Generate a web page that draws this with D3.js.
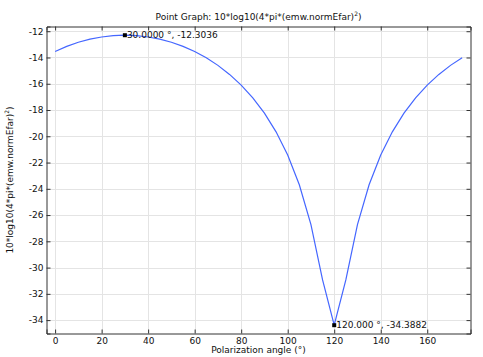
<!DOCTYPE html>
<html>
<head>
<meta charset="utf-8">
<script src="https://cdn.jsdelivr.net/npm/d3@7"></script>
<style>
    body { margin: 0; background: #fff; }
    text { font-family: "DejaVu Sans", sans-serif; font-size: 9px; fill: #111; }
</style>
</head>
<body>
<div id="myfigure"></div>
<script>
// polarization angle in degrees
var angles = [0, 5, 10, 15, 20, 25, 30, 35, 40, 45, 50, 55, 60, 65, 70, 75, 80, 85,
              90, 95, 100, 105, 110, 115, 120, 125, 130, 135, 140, 145, 150, 155, 160, 165, 170, 175];
// 10*log10(4*pi*(emw.normEfar)^2)
var values = [-13.54, -13.15, -12.84, -12.60, -12.44, -12.34, -12.3036, -12.34, -12.44, -12.60,
              -12.84, -13.15, -13.54, -14.02, -14.60, -15.29, -16.10, -17.08, -18.24, -19.66,
              -21.43, -23.69, -26.73, -30.94, -34.3882, -30.94, -26.73, -23.69, -21.43, -19.66,
              -18.24, -17.08, -16.10, -15.29, -14.60, -14.02];
var xTicks = [0, 20, 40, 60, 80, 100, 120, 140, 160];
var yTicks = [-34, -32, -30, -28, -26, -24, -22, -20, -18, -16, -14, -12];
// annotated points: [angle, value, label]
var marks = [
    [30, -12.3036, "30.0000 °, -12.3036"],
    [120, -34.3882, "120.000 °, -34.3882"]
];

var width = 483, height = 357;
var box = { left: 46.5, right: 470.5, top: 26.5, bottom: 333.5 };

var xScale = d3.scaleLinear().domain([-3.7, 178.6]).range([box.left, box.right]);
var yScale = d3.scaleLinear().domain([-35.02, -11.64]).range([box.bottom, box.top]);

var svg = d3.select("#myfigure")
    .append("svg")
    .attr("width", width)
    .attr("height", height);

// grid
svg.append("g").selectAll("line").data(xTicks).enter().append("line")
    .attr("x1", function(d) { return Math.round(xScale(d)) + 0.5; })
    .attr("x2", function(d) { return Math.round(xScale(d)) + 0.5; })
    .attr("y1", box.top).attr("y2", box.bottom)
    .attr("stroke", "#e4e4e4");
svg.append("g").selectAll("line").data(yTicks).enter().append("line")
    .attr("y1", function(d) { return Math.round(yScale(d)) + 0.5; })
    .attr("y2", function(d) { return Math.round(yScale(d)) + 0.5; })
    .attr("x1", box.left).attr("x2", box.right)
    .attr("stroke", "#e4e4e4");

// curve
var line = d3.line()
    .x(function(d, i) { return xScale(angles[i]); })
    .y(function(d) { return yScale(d); });
svg.append("path")
    .datum(values)
    .attr("d", line)
    .attr("fill", "none")
    .attr("stroke", "#4466ff")
    .attr("stroke-width", 1.2);

// axes (ticks pointing inward on all four sides)
function tickFmt(d) { return String(d).replace("\u2212", "-"); }
var xAxisB = d3.axisBottom(xScale).tickValues(xTicks).tickSize(-4).tickPadding(4).tickFormat(tickFmt);
var xAxisT = d3.axisTop(xScale).tickValues(xTicks).tickSize(-4).tickFormat("");
var yAxisL = d3.axisLeft(yScale).tickValues(yTicks).tickSize(-4).tickPadding(3).tickFormat(tickFmt);
var yAxisR = d3.axisRight(yScale).tickValues(yTicks).tickSize(-4).tickFormat("");

svg.append("g").attr("class", "axis").attr("transform", "translate(0," + box.bottom + ")").call(xAxisB);
svg.append("g").attr("class", "axis").attr("transform", "translate(0," + box.top + ")").call(xAxisT);
svg.append("g").attr("class", "axis").attr("transform", "translate(" + box.left + ",0)").call(yAxisL);
svg.append("g").attr("class", "axis").attr("transform", "translate(" + box.right + ",0)").call(yAxisR);

svg.selectAll(".axis path").attr("stroke", "#333");
svg.selectAll(".axis line").attr("stroke", "#333");
svg.selectAll(".axis text").style("font-family", "DejaVu Sans, sans-serif").style("font-size", "9px").attr("fill", "#111");

// markers and labels
var mk = svg.append("g").selectAll("g").data(marks).enter().append("g")
    .attr("transform", function(d) { return "translate(" + xScale(d[0]) + "," + yScale(d[1]) + ")"; });
mk.append("rect").attr("x", -2).attr("y", -2).attr("width", 4).attr("height", 4).attr("fill", "#000");
mk.append("text").attr("x", 2).attr("dy", "0.35em").text(function(d) { return d[2]; });

// title
var title = svg.append("text")
    .attr("x", (box.left + box.right) / 2)
    .attr("y", 20)
    .style("text-anchor", "middle");
title.append("tspan").text("Point Graph: 10*log10(4*pi*(emw.normEfar)");
title.append("tspan").attr("dy", -4).style("font-size", "6px").text("2");
title.append("tspan").attr("dy", 4).text(")");

// x label
svg.append("text")
    .attr("x", (box.left + box.right) / 2)
    .attr("y", 353)
    .style("text-anchor", "middle")
    .text("Polarization angle (°)");

// y label
var ylab = svg.append("text")
    .attr("transform", "translate(13," + ((box.top + box.bottom) / 2) + ") rotate(-90)")
    .style("text-anchor", "middle");
ylab.append("tspan").text("10*log10(4*pi*(emw.normEfar)");
ylab.append("tspan").attr("dy", -4).style("font-size", "6px").text("2");
ylab.append("tspan").attr("dy", 4).text(")");
</script>
</body>
</html>
